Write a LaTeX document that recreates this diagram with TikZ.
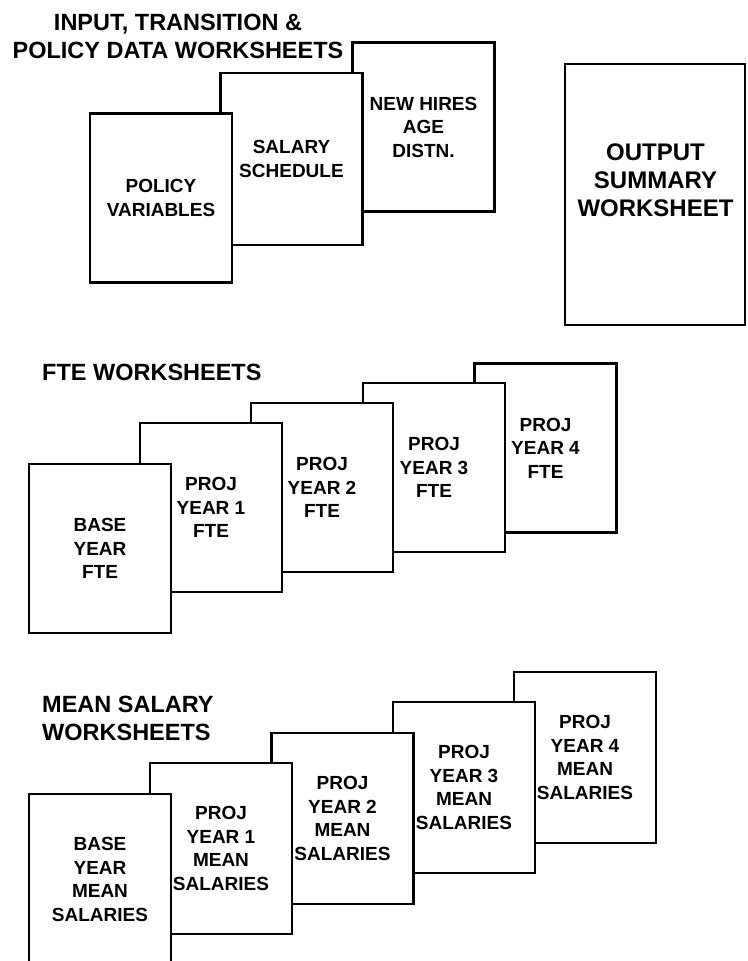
\documentclass[tikz,border=0pt]{standalone}
\usepackage{fontspec}
\setmainfont{Liberation Sans}
\usetikzlibrary{positioning}

\begin{document}
\begin{tikzpicture}[x=1pt, y=-1pt,
  sheet/.style={rectangle, draw=black, line width=2.2pt, fill=white, minimum width=142pt, minimum height=169pt,
                align=center, inner sep=0pt, font=\bfseries\fontsize{19}{23.5}\selectfont},
  heading/.style={align=left, inner sep=0pt, font=\bfseries\fontsize{23.5}{28}\selectfont}]
\useasboundingbox (0,0) rectangle (747,961);

\node[heading, align=center] (inputtitle) at (178,36.5) {INPUT, TRANSITION \&\\POLICY DATA WORKSHEETS};
\node[sheet] (newhires) at (423.5,127) {NEW HIRES\\AGE\\DISTN.};
\node[sheet, minimum height=172pt] (salary) at (291.5,159) {SALARY\\SCHEDULE};
\node[sheet] (policy) at (161,198) {POLICY\\VARIABLES};
\node[sheet, minimum width=180pt, minimum height=261pt] (output) at (655,194.5) {};
\node[align=center, inner sep=0pt, font=\bfseries\fontsize{24}{28}\selectfont] (outputtext) at (655.5,180) {OUTPUT\\SUMMARY\\WORKSHEET};

\node[heading, anchor=west] (ftetitle) at (42,372.5) {FTE WORKSHEETS};
\node[sheet] (fte4) at (545.5,448) {PROJ\\YEAR 4\\FTE};
\node[sheet] (fte3) at (434,467.5) {PROJ\\YEAR 3\\FTE};
\node[sheet] (fte2) at (322,487.5) {PROJ\\YEAR 2\\FTE};
\node[sheet] (fte1) at (211,507.5) {PROJ\\YEAR 1\\FTE};
\node[sheet] (ftebase) at (100,548.5) {BASE\\YEAR\\FTE};

\node[heading, anchor=west] (meantitle) at (42,718.5) {MEAN SALARY\\WORKSHEETS};
\node[sheet, minimum height=171pt] (mean4) at (585,757.5) {PROJ\\YEAR 4\\MEAN\\SALARIES};
\node[sheet, minimum height=171pt] (mean3) at (464,787.5) {PROJ\\YEAR 3\\MEAN\\SALARIES};
\node[sheet, minimum height=171pt] (mean2) at (342.5,818.5) {PROJ\\YEAR 2\\MEAN\\SALARIES};
\node[sheet, minimum height=171pt] (mean1) at (221,848.5) {PROJ\\YEAR 1\\MEAN\\SALARIES};
\node[sheet, minimum height=171pt] (meanbase) at (100,879.5) {BASE\\YEAR\\MEAN\\SALARIES};
\end{tikzpicture}
\end{document}
